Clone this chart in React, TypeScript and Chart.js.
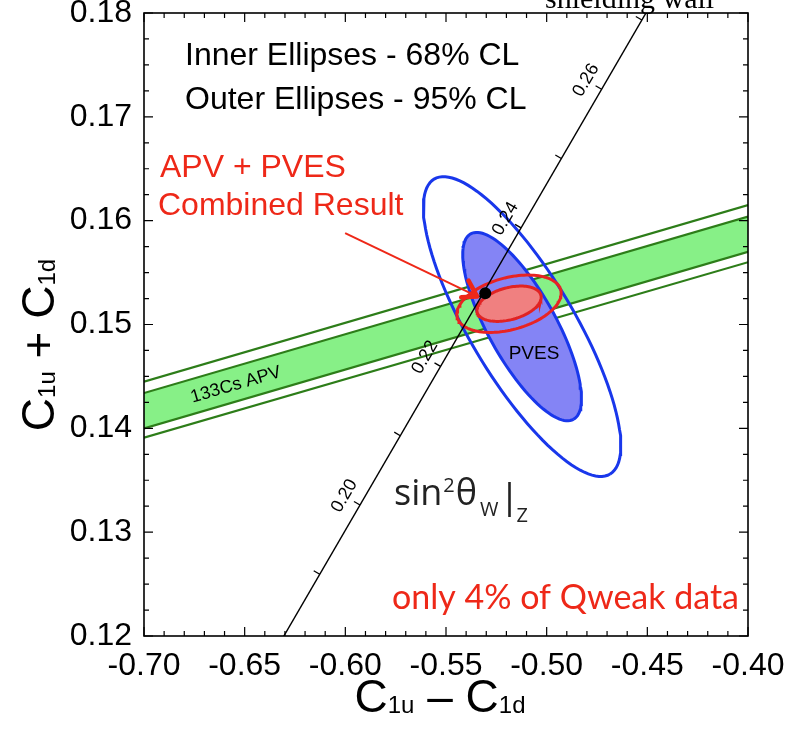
import React, { useEffect, useRef } from "react";
import { Chart, registerables } from "chart.js";
Chart.register(...registerables);

const W = 791;
const H = 729;

// axis ticks
const xTickValues = [-0.7, -0.65, -0.6, -0.55, -0.5, -0.45, -0.4];
const yTickValues = [0.12, 0.13, 0.14, 0.15, 0.16, 0.17, 0.18];

// 133Cs APV band (lines evaluated at x = -0.70 and x = -0.40)
const apvX = [-0.7, -0.4];
const apvOuterTop = [0.1445, 0.1615];
const apvInnerTop = [0.1434, 0.1604];
const apvInnerBottom = [0.14, 0.157];
const apvOuterBottom = [0.1391, 0.156];
const apvLabelX = -0.6545;

// Standard-model sin^2(theta_W) line
const smLineS2 = [0.17, 0.28];
const smLineX = [-0.6527, -0.4327];
const smLineY = [0.1126, 0.186];
const smTickS2 = [0.19, 0.2, 0.21, 0.22, 0.23, 0.24, 0.25, 0.26, 0.27];
const smLabelS2 = [0.2, 0.22, 0.24, 0.26];
const smPointX = [-0.5305];
const smPointY = [0.153];

// PVES ellipses (center, semi-major vector, semi-minor vector in data units)
const pvesCenter = [-0.5122, 0.1498];
const pvesInnerMajor = [0.02553, -0.00893];
const pvesInnerMinor = [0.01477, 0.00159];
const pvesOuterMajor = [0.04372, -0.0142];
const pvesOuterMinor = [0.0222, 0.0026];

// APV + PVES combined ellipses
const combCenter = [-0.5187, 0.152];
const combInnerMajor = [0.01585, 0.00082];
const combInnerMinor = [0.00206, -0.00149];
const combOuterMajor = [0.02568, 0.00133];
const combOuterMinor = [0.00334, -0.00242];

// annotation arrow
const arrowX = [-0.6001, -0.5345];
const arrowY = [0.1588, 0.1527];

const SANS = "'Liberation Sans', Arial, sans-serif";
const OS = "'Open Sans', 'Noto Sans', sans-serif";
const RED = "rgb(238,40,24)";

function ellipse(c: number[], a: number[], b: number[]) {
  const pts: { x: number; y: number }[] = [];
  const n = 120;
  for (let i = 0; i <= n; i++) {
    const t = (i / n) * Math.PI * 2;
    pts.push({ x: c[0] + Math.cos(t) * a[0] + Math.sin(t) * b[0], y: c[1] + Math.cos(t) * a[1] + Math.sin(t) * b[1] });
  }
  return pts;
}

function pairs(xs: number[], ys: number[]) {
  return xs.map((x, i) => ({ x, y: ys[i] }));
}

function txt(ctx: CanvasRenderingContext2D, s: string, x: number, y: number, font: string, color = "#000", align: CanvasTextAlign = "left", baseline: CanvasTextBaseline = "alphabetic") {
  ctx.font = font;
  ctx.fillStyle = color;
  ctx.textAlign = align;
  ctx.textBaseline = baseline;
  ctx.fillText(s, x, y);
  return ctx.measureText(s).width;
}

function subTitle(ctx: CanvasRenderingContext2D, op: string) {
  const parts: [string, string, number][] = [
    ["C", `46px ${SANS}`, 0],
    ["1u", `24px ${SANS}`, 1],
    [op, `46px ${SANS}`, 0],
    ["C", `46px ${SANS}`, 0],
    ["1d", `24px ${SANS}`, 1],
  ];
  let total = 0;
  const widths = parts.map(([s, f]) => {
    ctx.font = f;
    const w = ctx.measureText(s).width;
    total += w;
    return w;
  });
  let x = -total / 2;
  parts.forEach(([s, f, sub], i) => {
    txt(ctx, s, x, sub ? 1 : 0, f);
    x += widths[i];
  });
}

const overlay = {
  id: "overlay",
  afterDatasetsDraw(chart: any) {
    const { ctx, chartArea: ca } = chart;
    const xs = chart.scales.x;
    const ys = chart.scales.y;
    ctx.save();
    ctx.beginPath();
    ctx.rect(ca.left, ca.top, ca.right - ca.left, ca.bottom - ca.top);
    ctx.clip();
    // SM line ticks + labels
    const p0 = { x: xs.getPixelForValue(smLineX[0]), y: ys.getPixelForValue(smLineY[0]) };
    const p1 = { x: xs.getPixelForValue(smLineX[1]), y: ys.getPixelForValue(smLineY[1]) };
    const len = Math.hypot(p1.x - p0.x, p1.y - p0.y);
    const u = { x: (p1.x - p0.x) / len, y: (p1.y - p0.y) / len };
    const n = { x: u.y, y: -u.x };
    const at = (s2: number) => {
      const f = (s2 - smLineS2[0]) / (smLineS2[1] - smLineS2[0]);
      return { x: xs.getPixelForValue(smLineX[0] + f * (smLineX[1] - smLineX[0])), y: ys.getPixelForValue(smLineY[0] + f * (smLineY[1] - smLineY[0])) };
    };
    ctx.strokeStyle = "#000";
    ctx.lineWidth = 1.3;
    smTickS2.forEach((s2) => {
      const p = at(s2);
      ctx.beginPath();
      ctx.moveTo(p.x, p.y);
      ctx.lineTo(p.x + n.x * 7, p.y + n.y * 7);
      ctx.stroke();
    });
    const ang = Math.atan2(u.y, u.x);
    smLabelS2.forEach((s2) => {
      const p = at(s2);
      ctx.save();
      ctx.translate(p.x + n.x * 18, p.y + n.y * 18);
      ctx.rotate(ang);
      txt(ctx, s2.toFixed(2), 0, 0, `18px ${SANS}`, "#000", "center", "middle");
      ctx.restore();
    });
    // arrow head
    const t0 = { x: xs.getPixelForValue(arrowX[0]), y: ys.getPixelForValue(arrowY[0]) };
    const t1 = { x: xs.getPixelForValue(arrowX[1]), y: ys.getPixelForValue(arrowY[1]) };
    const a = Math.atan2(t1.y - t0.y, t1.x - t0.x) + Math.PI;
    ctx.strokeStyle = RED;
    ctx.lineWidth = 4.5;
    ctx.lineCap = "round";
    ctx.lineJoin = "round";
    ctx.beginPath();
    ctx.moveTo(t1.x + Math.cos(a + 0.62) * 18, t1.y + Math.sin(a + 0.62) * 18);
    ctx.lineTo(t1.x, t1.y);
    ctx.lineTo(t1.x + Math.cos(a - 0.5) * 16, t1.y + Math.sin(a - 0.5) * 16);
    ctx.stroke();
    ctx.restore();
  },
  afterDraw(chart: any) {
    const { ctx, chartArea: ca } = chart;
    const xs = chart.scales.x;
    const ys = chart.scales.y;
    ctx.save();
    // frame
    ctx.strokeStyle = "#000";
    ctx.lineWidth = 1.6;
    ctx.strokeRect(ca.left, ca.top, ca.right - ca.left, ca.bottom - ca.top);
    ctx.lineWidth = 1.2;
    // x ticks (minor every 0.01, major every 0.05)
    for (let i = 0; i <= 30; i++) {
      const px = xs.getPixelForValue(-0.7 + i * 0.01);
      const l = i % 5 === 0 ? 9 : 5;
      ctx.beginPath();
      ctx.moveTo(px, ca.bottom);
      ctx.lineTo(px, ca.bottom - l);
      ctx.moveTo(px, ca.top);
      ctx.lineTo(px, ca.top + l);
      ctx.stroke();
    }
    for (let i = 0; i <= 24; i++) {
      const py = ys.getPixelForValue(0.12 + i * 0.0025);
      const l = i % 4 === 0 ? 9 : 5;
      ctx.beginPath();
      ctx.moveTo(ca.left, py);
      ctx.lineTo(ca.left + l, py);
      ctx.moveTo(ca.right, py);
      ctx.lineTo(ca.right - l, py);
      ctx.stroke();
    }
    // titles
    ctx.save();
    ctx.translate(440, 712);
    subTitle(ctx, " \u2013 ");
    ctx.restore();
    ctx.save();
    ctx.translate(54, 345);
    ctx.rotate(-Math.PI / 2);
    subTitle(ctx, " + ");
    ctx.restore();
    // texts
    txt(ctx, "shielding wall", 545, 8, "30px 'Liberation Serif', 'Times New Roman', serif");
    txt(ctx, "Inner Ellipses - 68% CL", 185, 65, `32px ${SANS}`);
    txt(ctx, "Outer Ellipses - 95% CL", 185, 109, `32px ${SANS}`);
    txt(ctx, "APV + PVES", 160, 177, `32px ${SANS}`, RED);
    txt(ctx, "Combined Result", 158, 215, `32px ${SANS}`, RED);
    txt(ctx, "PVES", 534, 354, `19px ${SANS}`, "#000", "center", "middle");
    // APV label along band
    const f = (apvLabelX - apvX[0]) / (apvX[1] - apvX[0]);
    const byTop = apvInnerTop[0] + f * (apvInnerTop[1] - apvInnerTop[0]);
    const byBot = apvInnerBottom[0] + f * (apvInnerBottom[1] - apvInnerBottom[0]);
    const lx = xs.getPixelForValue(apvLabelX);
    const ly = (ys.getPixelForValue(byTop) + ys.getPixelForValue(byBot)) / 2;
    const slopePx = (ys.getPixelForValue(apvInnerTop[1]) - ys.getPixelForValue(apvInnerTop[0])) / (xs.getPixelForValue(apvX[1]) - xs.getPixelForValue(apvX[0]));
    ctx.save();
    ctx.translate(lx, ly);
    ctx.rotate(Math.atan(slopePx));
    txt(ctx, "133Cs APV", 0, 1, `18px ${SANS}`, "#000", "center", "middle");
    ctx.restore();
    // sin^2 theta_W |_Z
    const col = "#222";
    let x = 394;
    x += txt(ctx, "sin", x, 505, `36px ${OS}`, col);
    x += 1;
    x += txt(ctx, "2", x, 492, `20px ${OS}`, col);
    x += 1;
    x += txt(ctx, "\u03b8", x, 505, `36px ${OS}`, col);
    x += 3;
    x += txt(ctx, "W", x, 516, `20px ${OS}`, col);
    x += 11;
    ctx.strokeStyle = col;
    ctx.lineWidth = 2.6;
    ctx.beginPath();
    ctx.moveTo(x, 482);
    ctx.lineTo(x, 517);
    ctx.stroke();
    x += 7;
    txt(ctx, "Z", x, 522, `20px ${OS}`, col);
    txt(ctx, "only 4% of Qweak data", 392, 609, `34px Lato, 'Open Sans', sans-serif`, RED);
    ctx.restore();
  },
};

export default function App() {
  const ref = useRef<HTMLCanvasElement>(null);
  useEffect(() => {
    if (!ref.current) return;
    const line = (data: any[], color: string, width: number, extra: any = {}) => ({
      data,
      borderColor: color,
      borderWidth: width,
      pointRadius: 0,
      showLine: true,
      fill: false,
      tension: 0,
      ...extra,
    });
    const datasets: any[] = [
      line(pairs(apvX, apvInnerTop), "rgb(45,125,25)", 2.2, { fill: "+1", backgroundColor: "rgb(135,240,135)" }),
      line(pairs(apvX, apvInnerBottom), "rgb(45,125,25)", 2.2),
      line(pairs(apvX, apvOuterTop), "rgb(45,125,25)", 2.2),
      line(pairs(apvX, apvOuterBottom), "rgb(45,125,25)", 2.2),
      line(ellipse(pvesCenter, pvesOuterMajor, pvesOuterMinor), "rgb(25,55,235)", 3),
      line(ellipse(pvesCenter, pvesInnerMajor, pvesInnerMinor), "rgb(25,55,235)", 3, { fill: "shape", backgroundColor: "rgb(132,132,245)" }),
      line(ellipse(combCenter, combOuterMajor, combOuterMinor), "rgb(232,35,35)", 3),
      line(ellipse(combCenter, combInnerMajor, combInnerMinor), "rgb(225,35,35)", 3, { fill: "shape", backgroundColor: "rgb(240,128,128)" }),
      line(pairs(smLineX, smLineY), "#000", 1.4),
      line(pairs(arrowX, arrowY), RED, 2),
      { data: pairs(smPointX, smPointY), showLine: false, pointRadius: 6, pointBackgroundColor: "#000", pointBorderColor: "#000", pointBorderWidth: 0 },
    ];
    datasets.forEach((d, i) => (d.order = datasets.length - i));
    const tickFont = { family: SANS, size: 32 };
    const chart = new Chart(ref.current, {
      type: "line",
      data: { datasets },
      options: {
        animation: false,
        responsive: false,
        devicePixelRatio: 1,
        layout: { padding: { top: 13, right: 43, left: 0, bottom: 0 } },
        plugins: { legend: { display: false }, tooltip: { enabled: false }, filler: { propagate: false } },
        scales: {
          x: {
            type: "linear",
            min: -0.7,
            max: -0.4,
            grid: { display: false, drawTicks: false },
            border: { display: false },
            ticks: { font: tickFont, color: "#000", padding: 11, maxRotation: 0, autoSkip: false, callback: (v: any) => Number(v).toFixed(2) },
            afterBuildTicks: (s: any) => { s.ticks = xTickValues.map((v) => ({ value: v })); },
            afterFit: (s: any) => { s.height = 93; s.paddingLeft = 0; s.paddingRight = 0; },
          },
          y: {
            type: "linear",
            min: 0.12,
            max: 0.18,
            grid: { display: false, drawTicks: false },
            border: { display: false },
            ticks: { font: tickFont, color: "#000", padding: 12, autoSkip: false, callback: (v: any) => Number(v).toFixed(2) },
            afterBuildTicks: (s: any) => { s.ticks = yTickValues.map((v) => ({ value: v })); },
            afterFit: (s: any) => { s.width = 144; s.paddingTop = 0; s.paddingBottom = 0; },
          },
        },
      },
      plugins: [overlay],
    } as any);
    return () => chart.destroy();
  }, []);
  return (
    <div style={{ position: "absolute", left: 0, top: 0, width: W, height: H, background: "#fff" }}>
      <canvas ref={ref} width={W} height={H} style={{ display: "block", width: W, height: H }} />
    </div>
  );
}
